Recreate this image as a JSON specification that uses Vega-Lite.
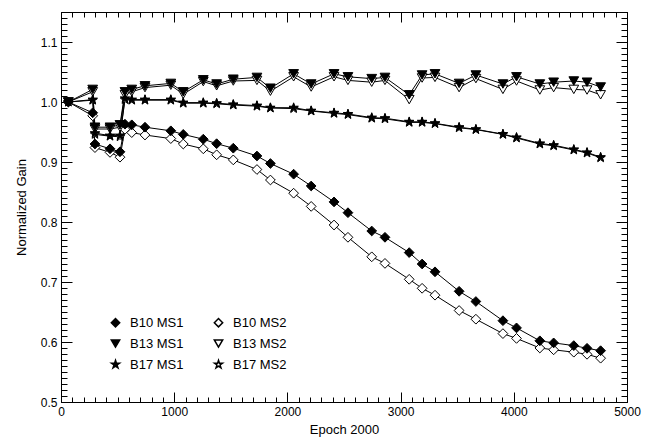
{
  "$schema": "https://vega.github.io/schema/vega-lite/v6.json",
  "width": 566,
  "height": 390,
  "autosize": {"type": "none"},
  "padding": {"left": 61, "top": 12, "right": 23, "bottom": 38},
  "background": "white",
  "config": {
    "view": {"stroke": "black", "strokeWidth": 1},
    "axis": {
      "grid": false,
      "domain": false,
      "tickColor": "black",
      "tickWidth": 1,
      "labelColor": "black",
      "titleColor": "black",
      "labelFont": "Liberation Sans",
      "titleFont": "Liberation Sans",
      "labelFontSize": 12,
      "titleFontSize": 13,
      "titleFontWeight": "normal"
    },
    "legend": {
      "labelFont": "Liberation Sans",
      "labelFontSize": 13,
      "labelColor": "black"
    }
  },
  "data": {
    "values": [
      {"epoch":65,"series":"B10 MS2","gain":1.0},{"epoch":280,"series":"B10 MS2","gain":0.977},{"epoch":300,"series":"B10 MS2","gain":0.924},{"epoch":433,"series":"B10 MS2","gain":0.916},{"epoch":521,"series":"B10 MS2","gain":0.908},{"epoch":565,"series":"B10 MS2","gain":0.9545},{"epoch":625,"series":"B10 MS2","gain":0.949},{"epoch":742,"series":"B10 MS2","gain":0.945},{"epoch":970,"series":"B10 MS2","gain":0.939},{"epoch":1080,"series":"B10 MS2","gain":0.93},{"epoch":1257,"series":"B10 MS2","gain":0.922},{"epoch":1375,"series":"B10 MS2","gain":0.912},{"epoch":1522,"series":"B10 MS2","gain":0.9035},{"epoch":1731,"series":"B10 MS2","gain":0.8875},{"epoch":1850,"series":"B10 MS2","gain":0.87},{"epoch":2055,"series":"B10 MS2","gain":0.848},{"epoch":2210,"series":"B10 MS2","gain":0.826},{"epoch":2412,"series":"B10 MS2","gain":0.795},{"epoch":2535,"series":"B10 MS2","gain":0.7745},{"epoch":2745,"series":"B10 MS2","gain":0.742},{"epoch":2862,"series":"B10 MS2","gain":0.731},{"epoch":3076,"series":"B10 MS2","gain":0.7045},{"epoch":3190,"series":"B10 MS2","gain":0.6895},{"epoch":3304,"series":"B10 MS2","gain":0.678},{"epoch":3517,"series":"B10 MS2","gain":0.6525},{"epoch":3665,"series":"B10 MS2","gain":0.638},{"epoch":3904,"series":"B10 MS2","gain":0.614},{"epoch":4024,"series":"B10 MS2","gain":0.606},{"epoch":4230,"series":"B10 MS2","gain":0.59},{"epoch":4352,"series":"B10 MS2","gain":0.587},{"epoch":4530,"series":"B10 MS2","gain":0.583},{"epoch":4647,"series":"B10 MS2","gain":0.5795},{"epoch":4767,"series":"B10 MS2","gain":0.573},
      {"epoch":65,"series":"B13 MS2","gain":1.0},{"epoch":280,"series":"B13 MS2","gain":1.017},{"epoch":300,"series":"B13 MS2","gain":0.955},{"epoch":433,"series":"B13 MS2","gain":0.955},{"epoch":521,"series":"B13 MS2","gain":0.958},{"epoch":565,"series":"B13 MS2","gain":1.012},{"epoch":625,"series":"B13 MS2","gain":1.017},{"epoch":742,"series":"B13 MS2","gain":1.024},{"epoch":970,"series":"B13 MS2","gain":1.028},{"epoch":1080,"series":"B13 MS2","gain":1.013},{"epoch":1257,"series":"B13 MS2","gain":1.034},{"epoch":1375,"series":"B13 MS2","gain":1.027},{"epoch":1522,"series":"B13 MS2","gain":1.035},{"epoch":1731,"series":"B13 MS2","gain":1.036},{"epoch":1850,"series":"B13 MS2","gain":1.018},{"epoch":2055,"series":"B13 MS2","gain":1.042},{"epoch":2210,"series":"B13 MS2","gain":1.025},{"epoch":2412,"series":"B13 MS2","gain":1.042},{"epoch":2535,"series":"B13 MS2","gain":1.036},{"epoch":2745,"series":"B13 MS2","gain":1.033},{"epoch":2862,"series":"B13 MS2","gain":1.036},{"epoch":3076,"series":"B13 MS2","gain":1.004},{"epoch":3190,"series":"B13 MS2","gain":1.04},{"epoch":3304,"series":"B13 MS2","gain":1.041},{"epoch":3517,"series":"B13 MS2","gain":1.024},{"epoch":3665,"series":"B13 MS2","gain":1.039},{"epoch":3904,"series":"B13 MS2","gain":1.021},{"epoch":4024,"series":"B13 MS2","gain":1.035},{"epoch":4230,"series":"B13 MS2","gain":1.02},{"epoch":4352,"series":"B13 MS2","gain":1.024},{"epoch":4530,"series":"B13 MS2","gain":1.021},{"epoch":4647,"series":"B13 MS2","gain":1.02},{"epoch":4767,"series":"B13 MS2","gain":1.012},
      {"epoch":65,"series":"B17 MS2","gain":1.0},{"epoch":280,"series":"B17 MS2","gain":1.003},{"epoch":300,"series":"B17 MS2","gain":0.946},{"epoch":433,"series":"B17 MS2","gain":0.943},{"epoch":521,"series":"B17 MS2","gain":0.942},{"epoch":565,"series":"B17 MS2","gain":1.004},{"epoch":625,"series":"B17 MS2","gain":1.003},{"epoch":742,"series":"B17 MS2","gain":1.003},{"epoch":970,"series":"B17 MS2","gain":1.003},{"epoch":1080,"series":"B17 MS2","gain":0.998},{"epoch":1257,"series":"B17 MS2","gain":0.998},{"epoch":1375,"series":"B17 MS2","gain":0.997},{"epoch":1522,"series":"B17 MS2","gain":0.995},{"epoch":1731,"series":"B17 MS2","gain":0.993},{"epoch":1850,"series":"B17 MS2","gain":0.99},{"epoch":2055,"series":"B17 MS2","gain":0.989},{"epoch":2210,"series":"B17 MS2","gain":0.985},{"epoch":2412,"series":"B17 MS2","gain":0.981},{"epoch":2535,"series":"B17 MS2","gain":0.979},{"epoch":2745,"series":"B17 MS2","gain":0.973},{"epoch":2862,"series":"B17 MS2","gain":0.972},{"epoch":3076,"series":"B17 MS2","gain":0.966},{"epoch":3190,"series":"B17 MS2","gain":0.966},{"epoch":3304,"series":"B17 MS2","gain":0.964},{"epoch":3517,"series":"B17 MS2","gain":0.957},{"epoch":3665,"series":"B17 MS2","gain":0.954},{"epoch":3904,"series":"B17 MS2","gain":0.946},{"epoch":4024,"series":"B17 MS2","gain":0.94},{"epoch":4230,"series":"B17 MS2","gain":0.93},{"epoch":4352,"series":"B17 MS2","gain":0.927},{"epoch":4530,"series":"B17 MS2","gain":0.92},{"epoch":4647,"series":"B17 MS2","gain":0.915},{"epoch":4767,"series":"B17 MS2","gain":0.907},
      {"epoch":65,"series":"B10 MS1","gain":1.0},{"epoch":280,"series":"B10 MS1","gain":0.982},{"epoch":300,"series":"B10 MS1","gain":0.93},{"epoch":433,"series":"B10 MS1","gain":0.922},{"epoch":521,"series":"B10 MS1","gain":0.917},{"epoch":565,"series":"B10 MS1","gain":0.963},{"epoch":625,"series":"B10 MS1","gain":0.962},{"epoch":742,"series":"B10 MS1","gain":0.958},{"epoch":970,"series":"B10 MS1","gain":0.952},{"epoch":1080,"series":"B10 MS1","gain":0.946},{"epoch":1257,"series":"B10 MS1","gain":0.938},{"epoch":1375,"series":"B10 MS1","gain":0.9305},{"epoch":1522,"series":"B10 MS1","gain":0.923},{"epoch":1731,"series":"B10 MS1","gain":0.91},{"epoch":1850,"series":"B10 MS1","gain":0.8975},{"epoch":2055,"series":"B10 MS1","gain":0.8797},{"epoch":2210,"series":"B10 MS1","gain":0.86},{"epoch":2412,"series":"B10 MS1","gain":0.8335},{"epoch":2535,"series":"B10 MS1","gain":0.8155},{"epoch":2745,"series":"B10 MS1","gain":0.785},{"epoch":2862,"series":"B10 MS1","gain":0.7745},{"epoch":3076,"series":"B10 MS1","gain":0.749},{"epoch":3190,"series":"B10 MS1","gain":0.73},{"epoch":3304,"series":"B10 MS1","gain":0.717},{"epoch":3517,"series":"B10 MS1","gain":0.6845},{"epoch":3665,"series":"B10 MS1","gain":0.6675},{"epoch":3904,"series":"B10 MS1","gain":0.6355},{"epoch":4024,"series":"B10 MS1","gain":0.6235},{"epoch":4230,"series":"B10 MS1","gain":0.602},{"epoch":4352,"series":"B10 MS1","gain":0.5985},{"epoch":4530,"series":"B10 MS1","gain":0.594},{"epoch":4647,"series":"B10 MS1","gain":0.5895},{"epoch":4767,"series":"B10 MS1","gain":0.5855},
      {"epoch":65,"series":"B13 MS1","gain":1.0},{"epoch":280,"series":"B13 MS1","gain":1.021},{"epoch":300,"series":"B13 MS1","gain":0.958},{"epoch":433,"series":"B13 MS1","gain":0.958},{"epoch":521,"series":"B13 MS1","gain":0.962},{"epoch":565,"series":"B13 MS1","gain":1.017},{"epoch":625,"series":"B13 MS1","gain":1.021},{"epoch":742,"series":"B13 MS1","gain":1.027},{"epoch":970,"series":"B13 MS1","gain":1.031},{"epoch":1080,"series":"B13 MS1","gain":1.017},{"epoch":1257,"series":"B13 MS1","gain":1.037},{"epoch":1375,"series":"B13 MS1","gain":1.03},{"epoch":1522,"series":"B13 MS1","gain":1.038},{"epoch":1731,"series":"B13 MS1","gain":1.041},{"epoch":1850,"series":"B13 MS1","gain":1.023},{"epoch":2055,"series":"B13 MS1","gain":1.047},{"epoch":2210,"series":"B13 MS1","gain":1.03},{"epoch":2412,"series":"B13 MS1","gain":1.047},{"epoch":2535,"series":"B13 MS1","gain":1.042},{"epoch":2745,"series":"B13 MS1","gain":1.039},{"epoch":2862,"series":"B13 MS1","gain":1.041},{"epoch":3076,"series":"B13 MS1","gain":1.012},{"epoch":3190,"series":"B13 MS1","gain":1.045},{"epoch":3304,"series":"B13 MS1","gain":1.047},{"epoch":3517,"series":"B13 MS1","gain":1.031},{"epoch":3665,"series":"B13 MS1","gain":1.045},{"epoch":3904,"series":"B13 MS1","gain":1.03},{"epoch":4024,"series":"B13 MS1","gain":1.042},{"epoch":4230,"series":"B13 MS1","gain":1.03},{"epoch":4352,"series":"B13 MS1","gain":1.033},{"epoch":4530,"series":"B13 MS1","gain":1.035},{"epoch":4647,"series":"B13 MS1","gain":1.033},{"epoch":4767,"series":"B13 MS1","gain":1.025},
      {"epoch":65,"series":"B17 MS1","gain":1.0},{"epoch":280,"series":"B17 MS1","gain":1.004},{"epoch":300,"series":"B17 MS1","gain":0.948},{"epoch":433,"series":"B17 MS1","gain":0.944},{"epoch":521,"series":"B17 MS1","gain":0.944},{"epoch":565,"series":"B17 MS1","gain":1.006},{"epoch":625,"series":"B17 MS1","gain":1.004},{"epoch":742,"series":"B17 MS1","gain":1.004},{"epoch":970,"series":"B17 MS1","gain":1.004},{"epoch":1080,"series":"B17 MS1","gain":0.999},{"epoch":1257,"series":"B17 MS1","gain":0.999},{"epoch":1375,"series":"B17 MS1","gain":0.998},{"epoch":1522,"series":"B17 MS1","gain":0.996},{"epoch":1731,"series":"B17 MS1","gain":0.994},{"epoch":1850,"series":"B17 MS1","gain":0.9905},{"epoch":2055,"series":"B17 MS1","gain":0.9905},{"epoch":2210,"series":"B17 MS1","gain":0.9855},{"epoch":2412,"series":"B17 MS1","gain":0.982},{"epoch":2535,"series":"B17 MS1","gain":0.98},{"epoch":2745,"series":"B17 MS1","gain":0.974},{"epoch":2862,"series":"B17 MS1","gain":0.973},{"epoch":3076,"series":"B17 MS1","gain":0.967},{"epoch":3190,"series":"B17 MS1","gain":0.967},{"epoch":3304,"series":"B17 MS1","gain":0.9645},{"epoch":3517,"series":"B17 MS1","gain":0.958},{"epoch":3665,"series":"B17 MS1","gain":0.9545},{"epoch":3904,"series":"B17 MS1","gain":0.9465},{"epoch":4024,"series":"B17 MS1","gain":0.941},{"epoch":4230,"series":"B17 MS1","gain":0.931},{"epoch":4352,"series":"B17 MS1","gain":0.928},{"epoch":4530,"series":"B17 MS1","gain":0.921},{"epoch":4647,"series":"B17 MS1","gain":0.916},{"epoch":4767,"series":"B17 MS1","gain":0.908}
    ]
  },
  "layer": [
    {
      "mark": {"type": "line", "color": "black", "strokeWidth": 1},
      "encoding": {
        "x": {
          "field": "epoch", "type": "quantitative",
          "scale": {"domain": [0, 5000], "nice": false, "zero": false},
          "axis": {
            "orient": "bottom", "title": "Epoch 2000", "format": "d",
            "values": [0, 1000, 2000, 3000, 4000, 5000],
            "labelFlush": false, "labelOverlap": false,
            "offset": -10, "tickSize": 10, "labelPadding": 4, "titlePadding": 6
          }
        },
        "y": {
          "field": "gain", "type": "quantitative",
          "scale": {"domain": [0.5, 1.15], "nice": false, "zero": false},
          "axis": {
            "orient": "left", "title": "Normalized Gain", "format": ".1f",
            "values": [0.5, 0.6, 0.7, 0.8, 0.9, 1.0, 1.1],
            "labelOverlap": false, "labelFlush": false,
            "offset": -11, "tickSize": 11, "labelPadding": 4, "titlePadding": 12
          }
        },
        "detail": {"field": "series"},
        "order": {"field": "epoch"}
      }
    },
    {
      "mark": {"type": "point", "filled": true, "stroke": "black", "strokeWidth": 1, "size": 95, "opacity": 1},
      "encoding": {
        "x": {
          "field": "epoch", "type": "quantitative",
          "axis": {
            "orient": "top", "title": null, "labels": false,
            "values": [0, 1000, 2000, 3000, 4000, 5000],
            "offset": -10, "tickSize": 10
          }
        },
        "y": {
          "field": "gain", "type": "quantitative",
          "axis": {
            "orient": "right", "title": null, "labels": false,
            "values": [0.5, 0.6, 0.7, 0.8, 0.9, 1.0, 1.1],
            "offset": -11, "tickSize": 11
          }
        },
        "shape": {
          "field": "series", "type": "nominal",
          "scale": {
            "domain": ["B10 MS1", "B10 MS2", "B13 MS1", "B13 MS2", "B17 MS1", "B17 MS2"],
            "range": ["diamond", "diamond", "triangle-down", "triangle-down",
              "M0,-1L0.2245,-0.309L0.951,-0.309L0.363,0.118L0.588,0.809L0,0.382L-0.588,0.809L-0.363,0.118L-0.951,-0.309L-0.2245,-0.309Z",
              "M0,-1L0.2245,-0.309L0.951,-0.309L0.363,0.118L0.588,0.809L0,0.382L-0.588,0.809L-0.363,0.118L-0.951,-0.309L-0.2245,-0.309Z"]
          },
          "legend": {
            "title": null, "orient": "none", "legendX": 48, "legendY": 304,
            "direction": "horizontal",
            "columns": 2, "columnPadding": 27, "rowPadding": 6,
            "symbolSize": 70,
            "labelOffset": 8,
            "encode": {"symbols": {"update": {
              "stroke": {"value": "black"},
              "strokeWidth": {"value": 0.6},
              "opacity": {"value": 1}
            }}}
          }
        },
        "fill": {
          "field": "series", "type": "nominal",
          "scale": {
            "domain": ["B10 MS1", "B10 MS2", "B13 MS1", "B13 MS2", "B17 MS1", "B17 MS2"],
            "range": ["black", "white", "black", "white", "black", "white"]
          }
        }
      }
    },
    {
      "mark": {"type": "point", "opacity": 0},
      "encoding": {
        "x": {
          "field": "epoch", "type": "quantitative",
          "axis": {
            "orient": "bottom", "title": null, "labels": false,
            "values": [0,100,200,300,400,500,600,700,800,900,1000,1100,1200,1300,1400,1500,1600,1700,1800,1900,2000,2100,2200,2300,2400,2500,2600,2700,2800,2900,3000,3100,3200,3300,3400,3500,3600,3700,3800,3900,4000,4100,4200,4300,4400,4500,4600,4700,4800,4900,5000],
            "offset": -5, "tickSize": 5
          }
        },
        "y": {
          "field": "gain", "type": "quantitative",
          "axis": {
            "orient": "left", "title": null, "labels": false,
            "values": [0.5,0.51,0.52,0.53,0.54,0.55,0.56,0.57,0.58,0.59,0.6,0.61,0.62,0.63,0.64,0.65,0.66,0.67,0.68,0.69,0.7,0.71,0.72,0.73,0.74,0.75,0.76,0.77,0.78,0.79,0.8,0.81,0.82,0.83,0.84,0.85,0.86,0.87,0.88,0.89,0.9,0.91,0.92,0.93,0.94,0.95,0.96,0.97,0.98,0.99,1.0,1.01,1.02,1.03,1.04,1.05,1.06,1.07,1.08,1.09,1.1,1.11,1.12,1.13,1.14,1.15],
            "offset": -6, "tickSize": 6
          }
        }
      }
    },
    {
      "mark": {"type": "point", "opacity": 0},
      "encoding": {
        "x": {
          "field": "epoch", "type": "quantitative",
          "axis": {
            "orient": "top", "title": null, "labels": false,
            "values": [0,100,200,300,400,500,600,700,800,900,1000,1100,1200,1300,1400,1500,1600,1700,1800,1900,2000,2100,2200,2300,2400,2500,2600,2700,2800,2900,3000,3100,3200,3300,3400,3500,3600,3700,3800,3900,4000,4100,4200,4300,4400,4500,4600,4700,4800,4900,5000],
            "offset": -5, "tickSize": 5
          }
        },
        "y": {
          "field": "gain", "type": "quantitative",
          "axis": {
            "orient": "right", "title": null, "labels": false,
            "values": [0.5,0.51,0.52,0.53,0.54,0.55,0.56,0.57,0.58,0.59,0.6,0.61,0.62,0.63,0.64,0.65,0.66,0.67,0.68,0.69,0.7,0.71,0.72,0.73,0.74,0.75,0.76,0.77,0.78,0.79,0.8,0.81,0.82,0.83,0.84,0.85,0.86,0.87,0.88,0.89,0.9,0.91,0.92,0.93,0.94,0.95,0.96,0.97,0.98,0.99,1.0,1.01,1.02,1.03,1.04,1.05,1.06,1.07,1.08,1.09,1.1,1.11,1.12,1.13,1.14,1.15],
            "offset": -6, "tickSize": 6
          }
        }
      }
    }
  ],
  "resolve": {"axis": {"x": "independent", "y": "independent"}}
}
